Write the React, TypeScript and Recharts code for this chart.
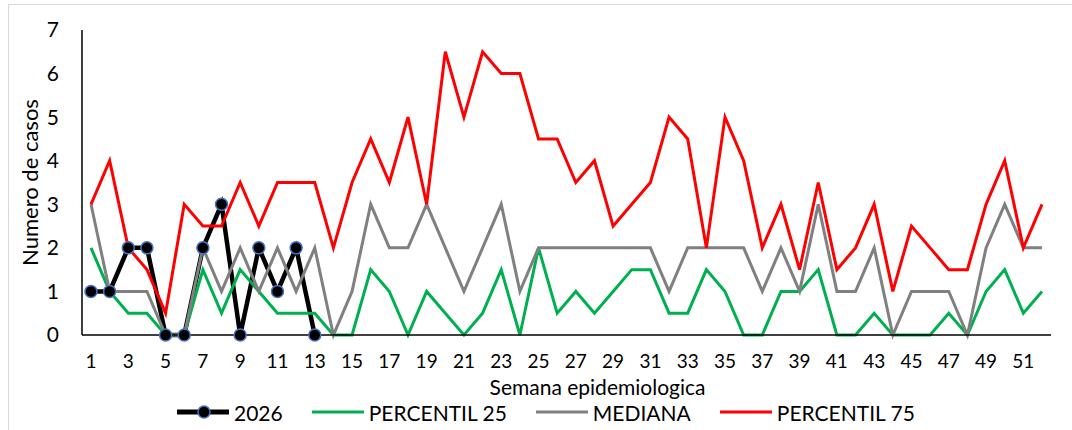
import {
  LineChart,
  Line,
  XAxis,
  YAxis,
  Legend,
} from "recharts";

const weeks = [
  1, 2, 3, 4, 5, 6, 7, 8, 9, 10, 11, 12, 13, 14, 15, 16, 17, 18, 19, 20, 21, 22, 23, 24, 25, 26,
  27, 28, 29, 30, 31, 32, 33, 34, 35, 36, 37, 38, 39, 40, 41, 42, 43, 44, 45, 46, 47, 48, 49, 50, 51, 52,
];

const cases2026 = [1, 1, 2, 2, 0, 0, 2, 3, 0, 2, 1, 2, 0];

const percentil25 = [
  2, 1, 0.5, 0.5, 0, 0, 1.5, 0.5, 1.5, 1, 0.5, 0.5, 0.5, 0, 0, 1.5, 1, 0, 1, 0.5, 0, 0.5, 1.5, 0, 2, 0.5,
  1, 0.5, 1, 1.5, 1.5, 0.5, 0.5, 1.5, 1, 0, 0, 1, 1, 1.5, 0, 0, 0.5, 0, 0, 0, 0.5, 0, 1, 1.5, 0.5, 1,
];

const mediana = [
  3, 1, 1, 1, 0, 0, 2, 1, 2, 1, 2, 1, 2, 0, 1, 3, 2, 2, 3, 2, 1, 2, 3, 1, 2, 2,
  2, 2, 2, 2, 2, 1, 2, 2, 2, 2, 1, 2, 1, 3, 1, 1, 2, 0, 1, 1, 1, 0, 2, 3, 2, 2,
];

const percentil75 = [
  3, 4, 2, 1.5, 0.5, 3, 2.5, 2.5, 3.5, 2.5, 3.5, 3.5, 3.5, 2, 3.5, 4.5, 3.5, 5, 3, 6.5, 5, 6.5, 6, 6, 4.5, 4.5,
  3.5, 4, 2.5, 3, 3.5, 5, 4.5, 2, 5, 4, 2, 3, 1.5, 3.5, 1.5, 2, 3, 1, 2.5, 2, 1.5, 1.5, 3, 4, 2, 3,
];

const yTicks = [0, 1, 2, 3, 4, 5, 6, 7];

const legendOrder = ["2026", "PERCENTIL 25", "MEDIANA", "PERCENTIL 75"];

const chartData = weeks.map((w, i) => ({
  semana: w,
  y2026: i < cases2026.length ? cases2026[i] : null,
  p25: percentil25[i],
  mediana: mediana[i],
  p75: percentil75[i],
}));

const FONT = "Lato, 'Open Sans', sans-serif";

function renderLegend(props: any) {
  const items = [...props.payload].sort(
    (a: any, b: any) => legendOrder.indexOf(a.value) - legendOrder.indexOf(b.value)
  );
  return (
    <div
      style={{
        display: "flex",
        alignItems: "center",
        marginLeft: 176,
        height: 30,
        fontFamily: FONT,
        fontSize: 21,
        color: "#000",
      }}
    >
      {items.map((entry: any) => {
        const isMain = entry.value === "2026";
        return (
          <div
            key={entry.value}
            style={{ display: "flex", alignItems: "center", marginRight: 28 }}
          >
            <svg width={54} height={20} style={{ marginRight: 4 }}>
              <line
                x1={1}
                y1={10}
                x2={53}
                y2={10}
                stroke={entry.color}
                strokeWidth={isMain ? 5 : 3}
              />
              {isMain && (
                <circle cx={28} cy={10} r={6} fill="#000" stroke="#4472C4" strokeWidth={1.5} />
              )}
            </svg>
            <span>{entry.value}</span>
          </div>
        );
      })}
    </div>
  );
}

export default function App() {
  return (
    <div
      style={{
        position: "absolute",
        left: 0,
        top: 0,
        width: 1072,
        height: 430,
        overflow: "hidden",
        background: "#fff",
      }}
    >
      <div
        style={{
          position: "absolute",
          left: 8,
          top: 4,
          width: 1200,
          height: 600,
          border: "1px solid #d9d9d9",
        }}
      />

      <div style={{ position: "absolute", left: 0, top: 0 }}>
        <LineChart
          width={1072}
          height={430}
          data={chartData}
          margin={{ top: 30, right: 21, left: 0, bottom: 3 }}
        >
          <XAxis
            dataKey="semana"
            interval={1}
            padding={{ left: 9, right: 9 }}
            axisLine={{ stroke: "#000", strokeWidth: 1.5 }}
            tickLine={false}
            tickSize={0}
            tickMargin={20}
            height={62}
            tick={{ fill: "#000", fontSize: 19, fontFamily: FONT }}
            label={{
              content: (p: any) => {
                const vb = p.viewBox;
                return (
                  <text
                    x={vb.x + vb.width / 2 + 31}
                    y={vb.y + 55}
                    textAnchor="middle"
                    dominantBaseline="middle"
                    fill="#000"
                    fontSize={21}
                    fontFamily={FONT}
                  >
                    Semana epidemiologica
                  </text>
                );
              },
            }}
          />

          <YAxis
            domain={[0, 7]}
            ticks={yTicks}
            width={82}
            axisLine={{ stroke: "#000", strokeWidth: 1.5 }}
            tickLine={false}
            tickSize={0}
            tickMargin={23}
            tick={{ fill: "#000", fontSize: 21, fontFamily: FONT }}
            label={{
              value: "Numero de casos",
              angle: -90,
              position: "insideLeft",
              offset: 30,
              style: {
                textAnchor: "middle",
                fill: "#000",
                fontSize: 22,
                fontFamily: FONT,
              },
            }}
          />

          <Legend verticalAlign="bottom" content={renderLegend} />

          <Line
            dataKey="y2026"
            name="2026"
            stroke="#000"
            strokeWidth={4.5}
            dot={{ r: 6, fill: "#000", stroke: "#4472C4", strokeWidth: 1.5 }}
            activeDot={false}
            connectNulls={false}
            isAnimationActive={false}
          />

          <Line
            dataKey="p25"
            name="PERCENTIL 25"
            stroke="#00B050"
            strokeWidth={3}
            dot={false}
            isAnimationActive={false}
          />

          <Line
            dataKey="mediana"
            name="MEDIANA"
            stroke="#808080"
            strokeWidth={3}
            dot={false}
            isAnimationActive={false}
          />

          <Line
            dataKey="p75"
            name="PERCENTIL 75"
            stroke="#FF0000"
            strokeWidth={3}
            dot={false}
            isAnimationActive={false}
          />
        </LineChart>
      </div>
    </div>
  );
}
